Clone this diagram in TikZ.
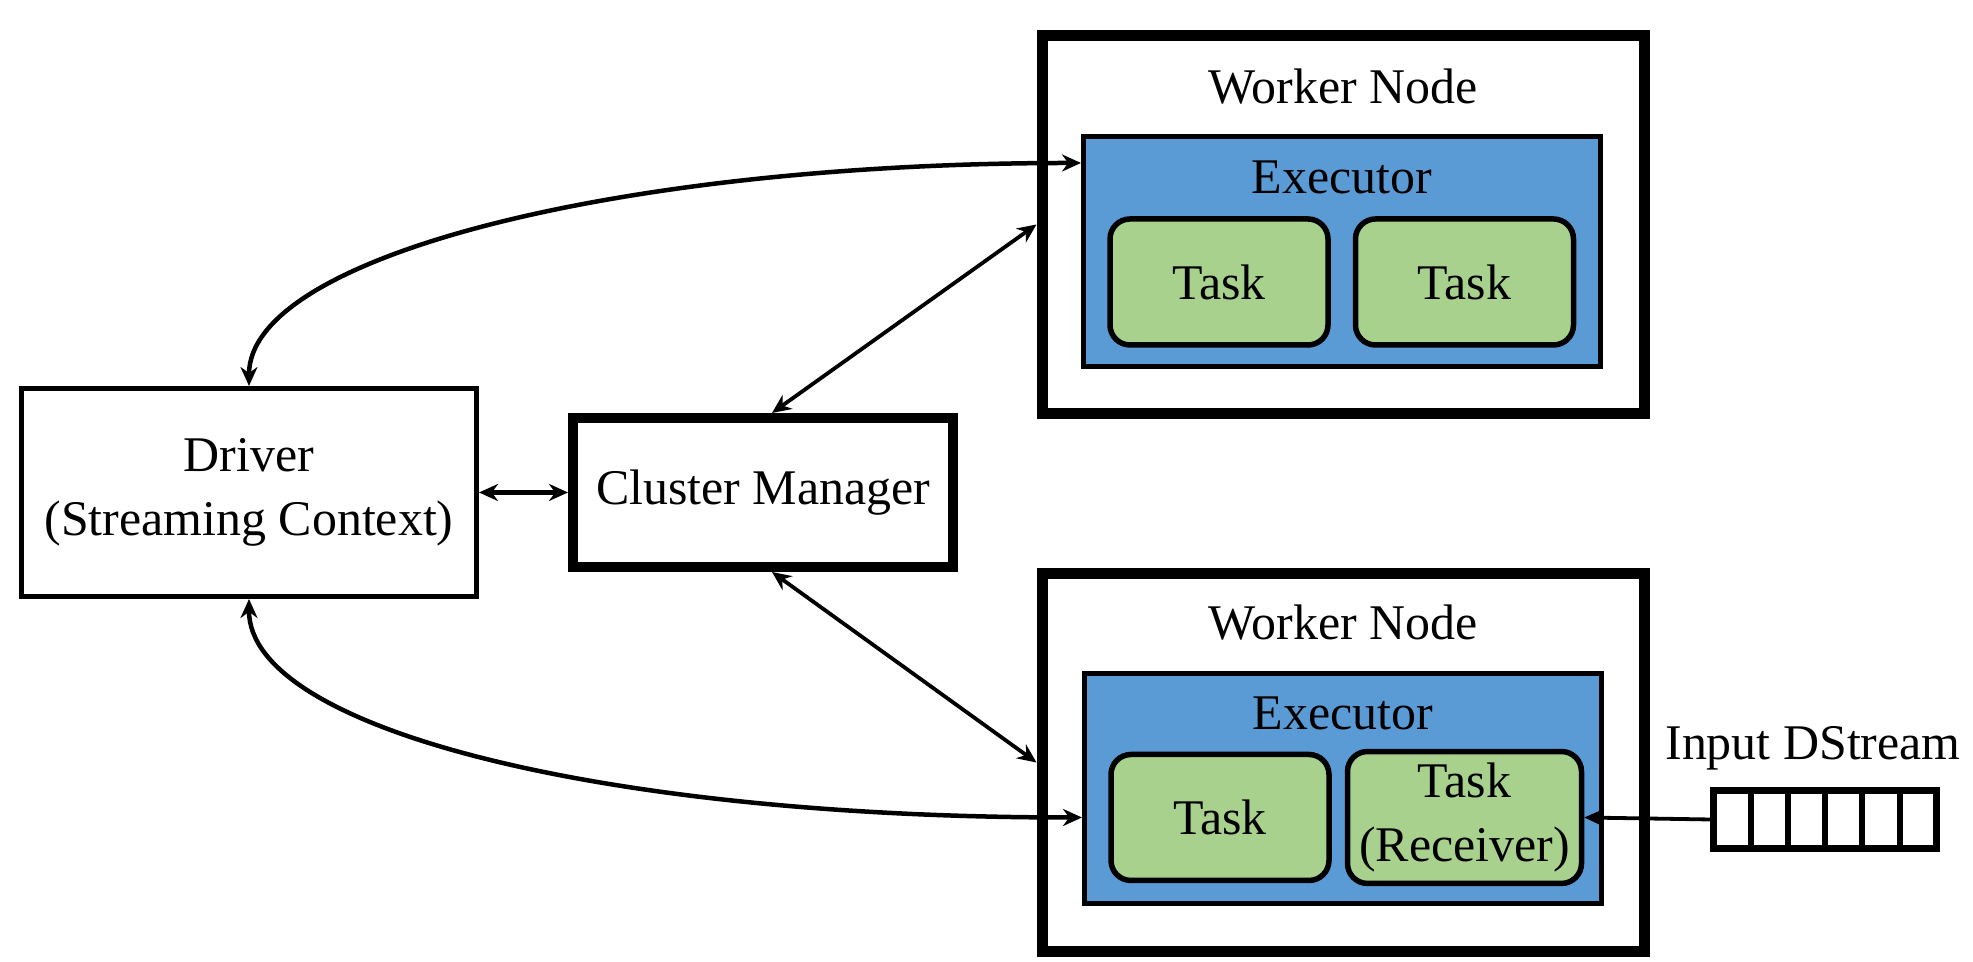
\documentclass[tikz,border=0pt]{standalone}
\usepackage{fontspec}
\setmainfont{Liberation Serif}
\usetikzlibrary{arrows.meta}
\definecolor{execblue}{HTML}{5B9BD5}
\definecolor{taskgreen}{HTML}{A9D18E}

\begin{document}
\begin{tikzpicture}[font=\fontsize{14.2}{18}\selectfont,
  >={Stealth[length=0.19cm,width=0.17cm]},
  drvbox/.style={draw,line width=0.05cm,minimum width=4.55cm,minimum height=2.08cm,align=center},
  mgrbox/.style={draw,line width=0.10cm,minimum width=3.80cm,minimum height=1.49cm},
  workerbox/.style={draw,line width=0.11cm,minimum width=6.02cm,minimum height=3.78cm},
  execbox/.style={draw,fill=execblue,line width=0.05cm,minimum width=5.17cm,minimum height=2.30cm},
  taskbox/.style={draw,fill=taskgreen,line width=0.055cm,rounded corners=0.2cm,minimum width=2.18cm,minimum height=1.26cm,align=center},
  link/.style={line width=0.045cm,<->},
  thinlink/.style={line width=0.038cm}]
\useasboundingbox (0,0) rectangle (19.73,9.62);
\node[drvbox] (driver) at (2.49,4.695) {Driver\\(Streaming Context)};
\node[mgrbox] (clmgr) at (7.63,4.695) {Cluster Manager};
\node[workerbox] (wtop) at (13.43,7.375) {};
\node[workerbox] (wbot) at (13.43,1.995) {};
\node[execbox] (etop) at (13.42,7.105) {};
\node[execbox] (ebot) at (13.43,1.735) {};
\node (wtoplbl) at (13.43,8.75) {Worker Node};
\node (wbotlbl) at (13.43,3.39) {Worker Node};
\node (etoplbl) at (13.42,7.85) {Executor};
\node (ebotlbl) at (13.43,2.49) {Executor};
\node[taskbox] (tt1) at (12.19,6.80) {Task};
\node[taskbox] (tt2) at (14.645,6.80) {Task};
\node[taskbox] (tb1) at (12.20,1.445) {Task};
\node[taskbox] (tb2) at (14.645,1.445) {Task\\(Receiver)};
\node (inlbl) at (18.13,2.14) {Input DStream};
\node[draw,line width=0.07cm,minimum width=2.23cm,minimum height=0.58cm] (queue) at (18.25,1.425) {};
\foreach \k in {1,...,5}
  \draw[line width=0.06cm] ({17.135+0.372*\k},1.135) -- ++(0,0.58);
\draw[link] (driver) -- (clmgr);
\draw[link] (driver.north) .. controls +(0,1.3) and +(-4.6,0) .. ([yshift=-0.29cm]etop.north west);
\draw[link] (driver.south) .. controls +(0,-1.3) and +(-4.8,0) .. (ebot.west |- tb1);
\draw[thinlink,<->] ([xshift=0.09cm]clmgr.north) -- (wtop.west);
\draw[thinlink,<->] ([xshift=0.09cm]clmgr.south) -- (wbot.west);
\draw[thinlink,->] (queue.west) -- (tb2.east);
\end{tikzpicture}
\end{document}
